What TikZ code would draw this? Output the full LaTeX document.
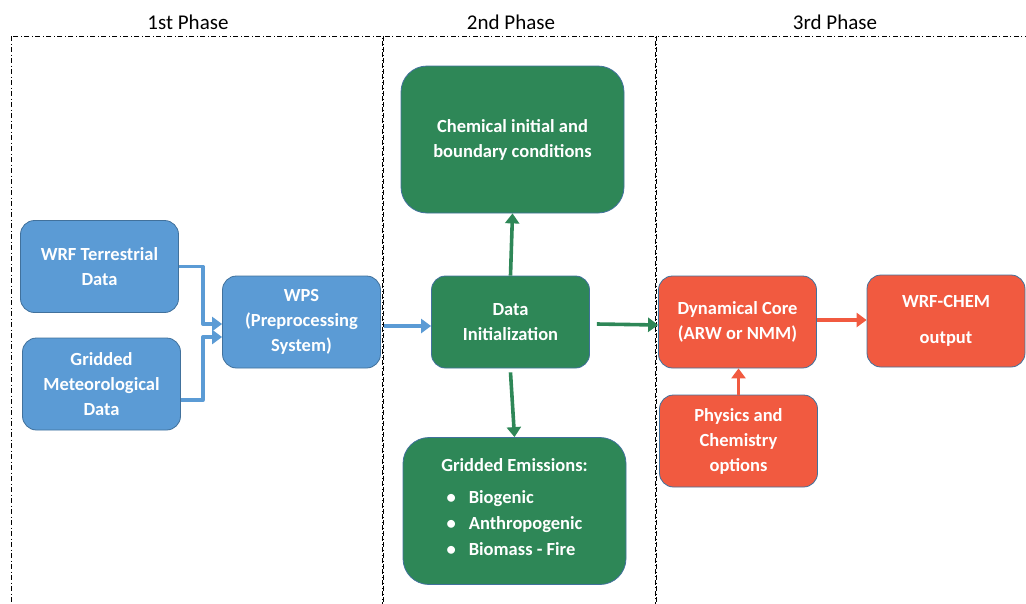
\documentclass[tikz,border=0pt]{standalone}
\usepackage{fontspec}
\setmainfont{Carlito}
\usetikzlibrary{arrows.meta,positioning}
\definecolor{wrfblue}{HTML}{5B9BD5}
\definecolor{wrfgreen}{HTML}{2E8757}
\definecolor{wrfred}{HTML}{F15A40}
\definecolor{edgeblue}{HTML}{41719C}
\tikzset{
  box/.style={draw=edgeblue,line width=0.8pt,rounded corners=14pt,text=white,
    font=\fontsize{18.5}{25}\selectfont\bfseries,align=center,
    minimum width=158pt,minimum height=92pt,inner sep=0pt},
  bluebox/.style={box,fill=wrfblue},
  greenbox/.style={box,fill=wrfgreen},
  redbox/.style={box,fill=wrfred},
  bigbox/.style={minimum width=223pt,minimum height=147pt,rounded corners=26pt},
  flow/.style={line width=3.6pt,-{Triangle[length=10pt,width=14pt]}},
  phase/.style={font=\fontsize{21}{24}\selectfont},
  phasebox/.style={dash pattern=on 5pt off 2.5pt on 1pt off 2.5pt,line width=0.9pt},
  every picture/.style={line join=round}
}

\begin{document}
\begin{tikzpicture}[x=1pt,y=-1pt]
  \useasboundingbox (0,0) rectangle (1026,603);
  \clip (0,0) rectangle (1026,603);

  % phase frames and titles
  \draw[phasebox] (11,36) rectangle (382,620);
  \draw[phasebox] (383.5,36) rectangle (655,620);
  \draw[phasebox] (656.5,36) rectangle (1040,620);
  \node[phase] (ph1) at (188,22) {1st Phase};
  \node[phase] (ph2) at (511,22) {2nd Phase};
  \node[phase] (ph3) at (835,22) {3rd Phase};

  % 1st phase
  \node[bluebox] (terr) at (99.5,266.5) {WRF Terrestrial\\Data};
  \node[bluebox] (grid) at (101.5,384) {Gridded\\Meteorological\\Data};
  \node[bluebox] (wps) at (301.5,322) {WPS\\(Preprocessing\\System)};

  % 2nd phase
  \node[greenbox] (init) at (510.5,322) {Data\\Initialization};
  \node[greenbox,bigbox] (chem) at (512.5,139.5) {Chemical initial and\\boundary conditions};
  \node[greenbox,bigbox] (emis) at (514.5,511) {Gridded Emissions:\\[13pt]
    \def\arraystretch{1.04}%
    \begin{tabular}{@{}c@{\hspace{13pt}}l@{}}
      • & Biogenic\\
      • & Anthropogenic\\
      • & Biomass - Fire
    \end{tabular}};

  % 3rd phase
  \node[redbox] (dyn) at (737.5,322) {Dynamical Core\\(ARW or NMM)};
  \node[redbox] (out) at (946,321) {WRF-CHEM\\[11pt]output};
  \node[redbox] (phys) at (738.5,441) {Physics and\\Chemistry\\options};

  % connectors
  \draw[flow,wrfblue] (terr.east) -- ++(24,0) |- ([yshift=-2pt]wps.west);
  \draw[flow,wrfblue] ([yshift=-16pt]grid.east) -- ++(22,0) |- ([yshift=-15pt]wps.west);
  \draw[flow,wrfblue] ([yshift=-4pt,xshift=3pt]wps.east) -- ([yshift=-4pt]init.west);
  \draw[flow,wrfgreen] (init.north) -- (chem.south);
  \draw[flow,wrfgreen] ([yshift=-4pt]init.south) -- (emis.north);
  \draw[flow,wrfgreen] ([yshift=-2pt,xshift=7pt]init.east) -- ([yshift=-3pt]dyn.west);
  \draw[flow,wrfred] ([yshift=2pt]dyn.east) -- ([yshift=1pt]out.west);
  \draw[flow,wrfred] (phys.north) -- (phys.north |- dyn.south);
\end{tikzpicture}
\end{document}
